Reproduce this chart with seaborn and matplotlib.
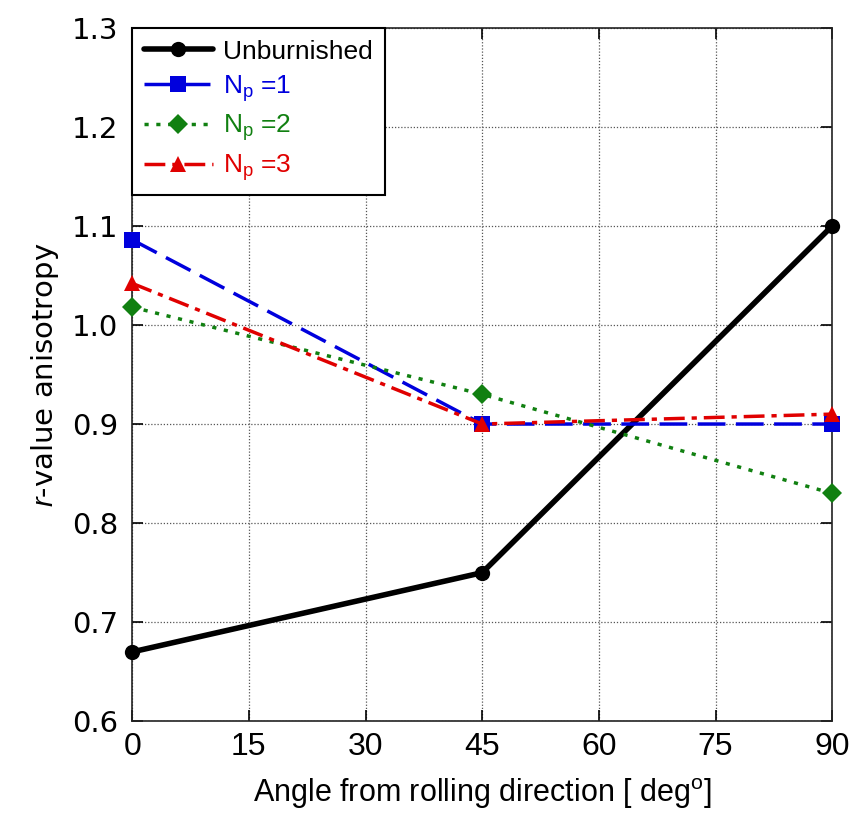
import matplotlib
matplotlib.use("Agg")
import matplotlib.pyplot as plt
import seaborn as sns
import pandas as pd

angles = [0, 45, 90]
unburnished = [0.67, 0.75, 1.10]
np1 = [1.086, 0.90, 0.90]
np2 = [1.018, 0.93, 0.83]
np3 = [1.042, 0.90, 0.91]

series_labels = ["Unburnished", "N$_{\\mathrm{p}}$ =1", "N$_{\\mathrm{p}}$ =2", "N$_{\\mathrm{p}}$ =3"]
x_ticks = [0, 15, 30, 45, 60, 75, 90]
y_ticks = [0.6, 0.7, 0.8, 0.9, 1.0, 1.1, 1.2, 1.3]

sns.set_theme(style="white")
plt.rcParams["font.family"] = ["Liberation Sans", "DejaVu Sans"]
plt.rcParams["mathtext.fontset"] = "custom"
plt.rcParams["mathtext.rm"] = "Liberation Sans"
plt.rcParams["mathtext.it"] = "Liberation Sans:italic"
for key in ("text.color", "axes.labelcolor", "xtick.color", "ytick.color"):
    plt.rcParams[key] = "black"

fig, ax = plt.subplots(figsize=(8.58, 8.15), dpi=100)
fig.subplots_adjust(left=0.154, right=0.97, top=0.966, bottom=0.115)

styles = [
    dict(values=unburnished, color="black", marker="o", ls="-", lw=4.0, ms=11),
    dict(values=np1, color="#0000dd", marker="s", ls=(0, (8, 3)), lw=2.5, ms=11),
    dict(values=np2, color="#118011", marker="D", ls=(0, (1.2, 2.2)), lw=2.5, ms=10),
    dict(values=np3, color="#e00000", marker="^", ls=(0, (6, 2, 1.5, 2)), lw=2.5, ms=12),
]

for label, st in zip(series_labels, styles):
    df = pd.DataFrame({"angle": angles, "r": st["values"]})
    sns.lineplot(data=df, x="angle", y="r", ax=ax, color=st["color"],
                 marker=st["marker"], markersize=st["ms"], linestyle=st["ls"],
                 linewidth=st["lw"], markeredgewidth=0, label=label,
                 clip_on=False, zorder=3)

ax.set_xlim(0, 90)
ax.set_ylim(0.6, 1.3)
ax.set_xticks(x_ticks)
ax.set_yticks(y_ticks)
ax.set_yticklabels([f"{v:.1f}" for v in y_ticks], fontsize=21, family="DejaVu Sans")
ax.set_xticklabels([str(v) for v in x_ticks], fontsize=23)
ax.grid(True, color="#555555", linestyle=(0, (1, 1.5)), linewidth=0.9)
ax.tick_params(direction="in", length=8, width=1.2, pad=10,
               top=True, right=True, bottom=True, left=True)
ax.tick_params(axis="x", pad=8)
for sp in ax.spines.values():
    sp.set_color("#222222")
    sp.set_linewidth(1.2)

ax.set_xlabel("Angle from rolling direction [ deg$^{\\mathrm{o}}$]", fontsize=22, labelpad=10)
ax.set_ylabel("$\\mathit{r}$-value anisotropy", fontsize=21, family="DejaVu Sans", labelpad=8)

leg = ax.legend(loc="upper left", fontsize=19, frameon=True, fancybox=False,
                edgecolor="black", framealpha=1, borderaxespad=0.0,
                handlelength=2.6, labelspacing=0.35, borderpad=0.45,
                handletextpad=0.4)
leg.get_frame().set_linewidth(1.5)
for txt, st in zip(leg.get_texts(), styles):
    txt.set_color(st["color"])

fig.savefig("out.png", dpi=100)
